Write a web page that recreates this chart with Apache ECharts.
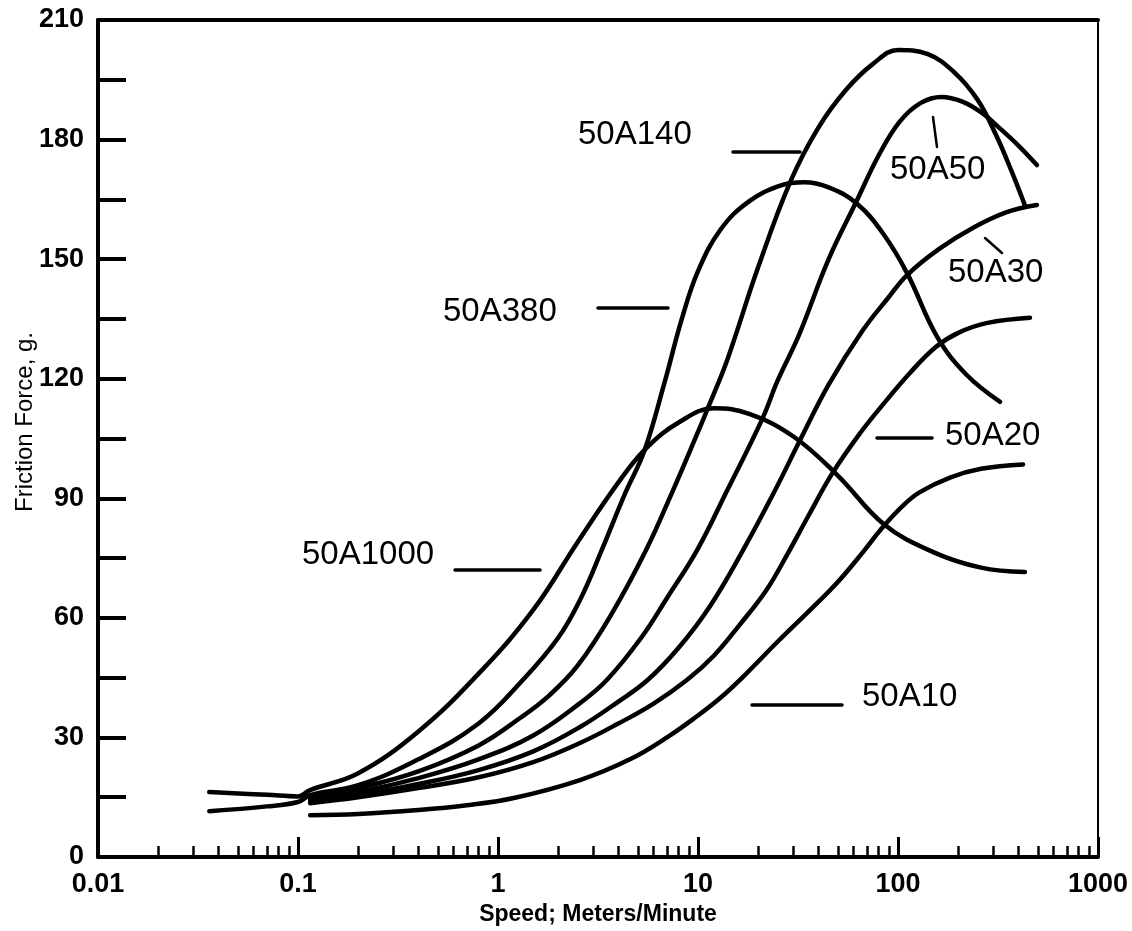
<!DOCTYPE html>
<html><head><meta charset="utf-8">
<script src="https://cdn.jsdelivr.net/npm/echarts@6/dist/echarts.min.js"></script>
<style>html,body{margin:0;padding:0;background:#fff}#c{width:1132px;height:931px}</style>
</head><body><div id="c"></div>
<script>
// ---- data (speed in m/min, friction force in g) ----
const xTickLabels = ['0.01', '0.1', '1', '10', '100', '1000'];
const yTickLabels = ['0', '30', '60', '90', '120', '150', '180', '210'];
const xMinorTicks = [0.02,0.03,0.04,0.05,0.06,0.07,0.08,0.09,
  0.2,0.3,0.4,0.5,0.6,0.7,0.8,0.9,
  2,3,4,5,6,7,8,9,
  20,30,40,50,60,70,80,90,
  200,300,400,500,600,700,800,900];
const seriesNames = ['50A1000', '50A380', '50A140', '50A50', '50A30', '50A20', '50A10'];
const xAxisTitle = 'Speed; Meters/Minute';
const yAxisTitle = 'Friction Force, g.';

const A1000 = [[0.036,16.3],[0.07,15.6],[0.1,15.2],[0.115,16.8],[0.2,21],[0.4,31.5],[0.8,46],[1.5,62],[2.5,79],[4,94],[5.5,102.5],[8,109],[12,112.6],[18,111.2],[30,105.5],[50,95.7],[85,83.5],[150,76.5],[260,72.6],[431,71.5]];
const A380 = [[0.036,11.5],[0.07,12.7],[0.1,13.8],[0.115,15.5],[0.2,18],[0.4,24.5],[0.8,33.5],[1.33,44.4],[2,55],[2.6,65],[3.3,77],[4.3,91],[5.4,102],[6.8,119],[8.3,135],[10,147],[13,157.5],[18,164.5],[26,168.5],[34,169.3],[45,168],[62,164],[84,156.5],[111,146.5],[157,130.5],[220,121],[324,114.2]];
const A140 = [[0.115,15],[0.2,17.3],[0.4,21.5],[0.8,28],[1.3,35],[1.8,40.5],[2.5,48],[3.7,61],[5.5,77],[7.5,92],[9.5,104],[11.5,114],[14,124.7],[20,148],[29,169.5],[40,183],[55,192.5],[75,199],[100,202.5],[140,201.5],[190,197],[250,190],[310,181],[370,172],[431,163.5]];
const A50 = [[0.115,14.5],[0.2,16.3],[0.4,19.8],[0.8,24.5],[1.5,30.5],[2.57,38.6],[3.5,44.4],[5.2,55],[7,65],[9.9,77],[14,92],[21,110],[25,119.5],[32,131],[45,150],[62,164.5],[80,176],[102,184.5],[130,189.2],[165,190.7],[210,189.5],[266,186.5],[320,183],[400,178.5],[495,173.6]];
const A30 = [[0.115,14],[0.2,15.5],[0.4,18.3],[0.8,21.8],[1.5,26.5],[2.57,32.6],[4,39],[5.6,44.4],[8,52.5],[11.5,63],[16.8,77],[24,91.5],[32.4,104.6],[45,118.5],[66.8,132.2],[90,140.5],[111,146],[160,152.5],[240,158],[350,161.8],[495,163.6]];
const A20 = [[0.115,13.5],[0.2,15],[0.4,17.3],[0.8,20],[1.5,23.8],[2.57,28.6],[4,33.5],[6,38.5],[8.8,44.4],[12,50.5],[16,58],[22,67],[28,76],[36,86],[47,96.3],[65,106.5],[84,113.5],[115,121.5],[155,128],[200,131.5],[280,134],[457,135.3]];
const A10 = [[0.115,10.5],[0.2,10.8],[0.4,11.8],[0.7,13],[1.2,14.8],[2.57,19.3],[4.57,24.5],[7,30],[10,35.5],[13,40],[16.8,45.2],[25,54],[37.6,62.7],[50,69],[66.8,76.5],[83,82.5],[105,88],[128,91.5],[182,95.2],[260,97.4],[422,98.5]];
const curves = [A1000, A380, A140, A50, A30, A20, A10];

// ---- chart ----
const tickFont = "'Liberation Sans Narrow','Liberation Sans',Arial,sans-serif";
const labelFont = "'Liberation Sans',Arial,sans-serif";
const chart = echarts.init(document.getElementById('c'), null, {renderer: 'canvas'});

function lbl(text, x, y) {
  return {type: 'text', x: x, y: y, silent: true,
    style: {text: text, font: "normal 33px " + labelFont, fill: '#000', verticalAlign: 'middle', align: 'left'}};
}
function seg(x1, y1, x2, y2, w) {
  return {type: 'line', silent: true, shape: {x1: x1, y1: y1, x2: x2, y2: y2},
    style: {stroke: '#000', lineWidth: w || 3.5, lineCap: 'round'}};
}

const option = {
  animation: false,
  backgroundColor: '#fff',
  grid: {left: 98, right: 34, top: 20, bottom: 74, containLabel: false, outerBoundsMode: 'none'},
  xAxis: [
    {type: 'log', logBase: 10, min: 0.01, max: 1000, position: 'bottom',
     axisLine: {show: true, onZero: false, lineStyle: {color: '#000', width: 4}},
     axisTick: {show: true, inside: true, length: 20, lineStyle: {color: '#000', width: 3}},
     minorTick: {show: false}, splitLine: {show: false},
     axisLabel: {margin: 14, color: '#000', fontFamily: tickFont, fontWeight: 'bold', fontSize: 27,
       showMinLabel: true, showMaxLabel: true,
       formatter: v => xTickLabels[Math.round(Math.log10(v)) + 2]},
     name: xAxisTitle, nameLocation: 'middle', nameGap: 45,
     nameTextStyle: {color: '#000', fontFamily: labelFont, fontWeight: 'bold', fontSize: 23}},
    {type: 'log', logBase: 10, min: 0.01, max: 1000, position: 'bottom',
     axisLine: {show: false},
     axisTick: {show: true, inside: true, length: 11, customValues: xMinorTicks, lineStyle: {color: '#000', width: 2.5}},
     axisLabel: {show: false}, splitLine: {show: false}},
    {type: 'log', logBase: 10, min: 0.01, max: 1000, position: 'top',
     axisLine: {show: true, onZero: false, lineStyle: {color: '#000', width: 4}},
     axisTick: {show: false}, axisLabel: {show: false}, splitLine: {show: false}}
  ],
  yAxis: [
    {type: 'value', min: 0, max: 210, interval: 15, position: 'left',
     axisLine: {show: true, onZero: false, lineStyle: {color: '#000', width: 4}},
     axisTick: {show: true, inside: true, length: 28, lineStyle: {color: '#000', width: 4}},
     splitLine: {show: false},
     axisLabel: {margin: 14, color: '#000', fontFamily: tickFont, fontWeight: 'bold', fontSize: 27,
       formatter: v => (Math.round(v) % 30 === 0 ? yTickLabels[Math.round(v) / 30] : '')}},
    {type: 'value', min: 0, max: 210, position: 'right',
     axisLine: {show: true, onZero: false, lineStyle: {color: '#000', width: 2}},
     axisTick: {show: false}, axisLabel: {show: false}, splitLine: {show: false}}
  ],
  series: curves.map((d, i) => ({
    name: seriesNames[i], type: 'line', data: d, xAxisIndex: 0, yAxisIndex: 0,
    smooth: 0.4, symbol: 'none', showSymbol: false, silent: true, clip: true,
    lineStyle: {color: '#000', width: 4.5, cap: 'round', join: 'round'}
  })),
  graphic: [
    {type: 'text', x: 25, y: 422, rotation: Math.PI / 2, silent: true,
     style: {text: yAxisTitle, font: "normal 24px " + labelFont, fill: '#000', align: 'center', verticalAlign: 'middle'}},
    lbl(seriesNames[2], 578, 135), seg(733, 152, 800, 152),
    lbl(seriesNames[3], 890, 170), seg(933, 117, 937, 147, 2.5),
    lbl(seriesNames[4], 948, 273), seg(985, 238, 1002, 253, 2.5),
    lbl(seriesNames[1], 443, 312), seg(598, 308, 668, 308),
    lbl(seriesNames[5], 945, 436), seg(877, 438, 932, 438),
    lbl(seriesNames[0], 302, 555), seg(455, 570, 540, 570),
    lbl(seriesNames[6], 862, 697), seg(752, 705, 842, 705)
  ]
};
chart.setOption(option);
</script>
</body></html>
